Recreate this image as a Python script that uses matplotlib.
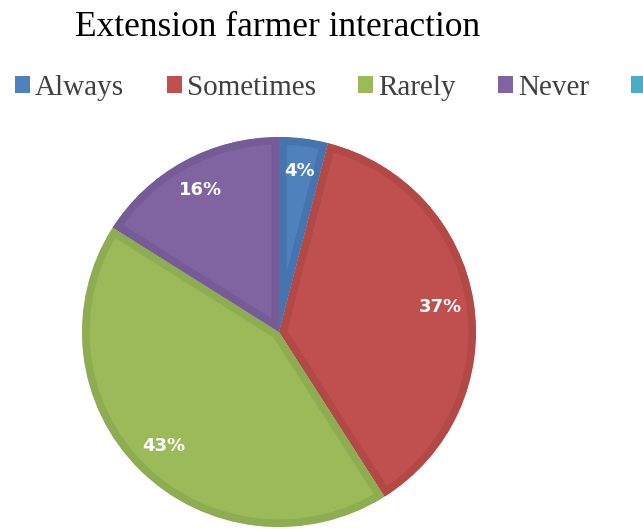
import numpy as np
import matplotlib.pyplot as plt
from matplotlib.patches import Patch

# Daten
kategorien = ['Always', 'Sometimes', 'Rarely', 'Never', '']
anteile = [4, 37, 43, 16]
farben = ['#4F81BD', '#C0504D', '#9BBB59', '#8064A2', '#4BACC6']
rand_farben = ['#4574AE', '#B24946', '#8EAD52', '#755C96']
titel = 'Extension farmer interaction'

fig = plt.figure(figsize=(6.43, 5.29), dpi=100)
ax = fig.add_axes([82/643, 2/529, 394/643, 390/529])

wedges, texts, autotexts = ax.pie(anteile, colors=farben[:4], startangle=90, counterclock=False,
                                  autopct='%1.0f%%', pctdistance=0.83,
                                  textprops=dict(color='white', fontsize=13, fontweight='bold',
                                                 family='DejaVu Sans'))
for w, rc in zip(wedges, rand_farben):
    w.set_edgecolor(rc)
    w.set_linewidth(11)
    w.set_clip_path(w)   # nur innerer Rand
    w.set_clip_on(True)
ax.set_aspect('auto')
ax.set_xlim(-1, 1)
ax.set_ylim(-1, 1)

fig.text(278/643, 1 - 27/529, titel, ha='center', va='center',
         fontsize=25.5, family='Liberation Serif', color='black')

handles = [Patch(facecolor=f, edgecolor='none') for f in farben]
leg = fig.legend(handles, kategorien, loc='center left', bbox_to_anchor=(15/643, 1 - 88/529),
                 ncol=5, frameon=False, handlelength=0.52, handleheight=0.52,
                 handletextpad=0.17, columnspacing=1.45, borderaxespad=0, borderpad=0,
                 prop=dict(family='Liberation Serif', size=21))
for t in leg.get_texts():
    t.set_color('#404040')

fig.savefig('out.png', dpi=100)
